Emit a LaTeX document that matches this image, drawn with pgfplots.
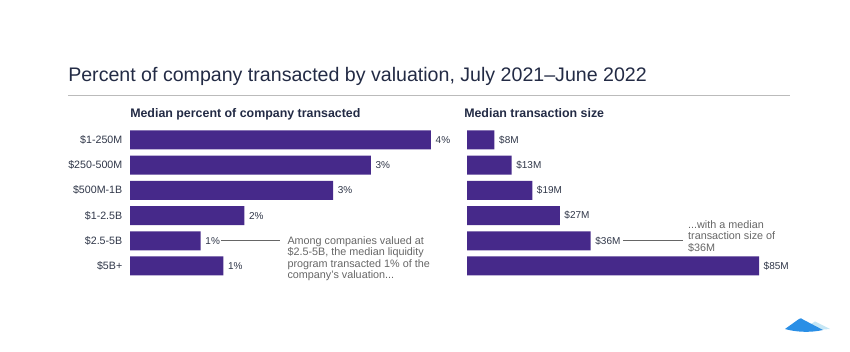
\documentclass[border=0pt]{standalone}
\usepackage{pgfplots}
\pgfplotsset{compat=1.18}
\usepackage{fontspec}
\setmainfont{Liberation Sans}
\definecolor{barc}{HTML}{46298A}
\definecolor{titlec}{HTML}{232B45}
\definecolor{txtc}{HTML}{2F3648}
\definecolor{annc}{HTML}{666666}
\definecolor{rulec}{HTML}{BBBBBB}
\definecolor{logoa}{HTML}{2A8FE6}
\definecolor{logob}{HTML}{C5E6F5}
\begin{document}
\begin{tikzpicture}[x=0.75pt,y=0.75pt]
\useasboundingbox (0,0) rectangle (850,352);
% title
\node[anchor=base west,inner sep=0,font=\fontsize{14.7pt}{17pt}\selectfont,text=titlec] at (68,352-82) {Percent of company transacted by valuation, July 2021–June 2022};
\draw[rulec,line width=0.75pt] (68,352-96) -- (790,352-96);
\node[anchor=base west,inner sep=0,font=\fontsize{9.3pt}{10pt}\selectfont\bfseries,text=titlec] at (130,352-118) {Median percent of company transacted};
\node[anchor=base west,inner sep=0,font=\fontsize{9.3pt}{10pt}\selectfont\bfseries,text=titlec] at (464,352-118) {Median transaction size};
\pgfplotsset{
  barstyle/.style={
    xbar, scale only axis, height=113.4pt, ymin=-0.5, ymax=5.5, y dir=reverse,
    xmin=0, bar width=14.25pt, clip=false,
    axis line style={draw=none}, tick style={draw=none}, xtick=\empty,
    nodes near coords, point meta=explicit symbolic,
    every node near coord/.append style={font=\fontsize{7.5pt}{8pt}\selectfont,text=txtc,anchor=west,xshift=0pt},
  }
}
\begin{axis}[barstyle, at={(97.5pt,55.05pt)}, anchor=south west, width=225.75pt, xmax=4,
  ytick={0,1,2,3,4,5},
  yticklabels={\$1-250M,\$250-500M,\$500M-1B,\$1-2.5B,\$2.5-5B,\$5B+},
  yticklabel style={font=\fontsize{8pt}{9pt}\selectfont,text=txtc,anchor=east,xshift=2pt},
]
\addplot[fill=barc,draw=none] table[meta=label] {
x y label
4.00 0 4\%
3.20 1 3\%
2.70 2 3\%
1.52 3 2\%
0.94 4 1\%
1.24 5 1\%
};
\draw[annc,line width=0.6pt] (axis cs:1.21,4) -- (axis cs:1.99,4);
\node[anchor=north west,inner sep=0,align=left,text=annc,font=\fontsize{8.1pt}{8.5pt}\selectfont] at ([yshift=3.3pt]axis cs:2.09,4) {Among companies valued at\\\$2.5-5B, the median liquidity\\program transacted 1\% of the\\company's valuation...};
\end{axis}
\begin{axis}[barstyle, at={(350.25pt,55.05pt)}, anchor=south west, width=219pt, xmax=85,
  ytick=\empty]
\addplot[fill=barc,draw=none] table[meta=label] {
x y label
8 0 \$8M
13 1 \$13M
19 2 \$19M
27 3 \$27M
36 4 \$36M
85 5 \$85M
};
\draw[annc,line width=0.6pt] (axis cs:45.4,4) -- (axis cs:62.9,4);
\node[anchor=north west,inner sep=0,align=left,text=annc,font=\fontsize{8.1pt}{8.5pt}\selectfont] at ([yshift=15.3pt]axis cs:64.3,4) {...with a median\\transaction size of\\\$36M};
\end{axis}
% logo
\fill[logob] (806,352-327) -- (815,352-321.5) -- (830,352-329) -- (818,352-330) -- cycle;
\fill[logoa] (785,352-329) -- (799,352-319) .. controls (801,352-318) .. (803,352-319.5) -- (823,352-330) .. controls (810,352-333) and (795,352-332) .. (785,352-329) -- cycle;
\end{tikzpicture}
\end{document}
